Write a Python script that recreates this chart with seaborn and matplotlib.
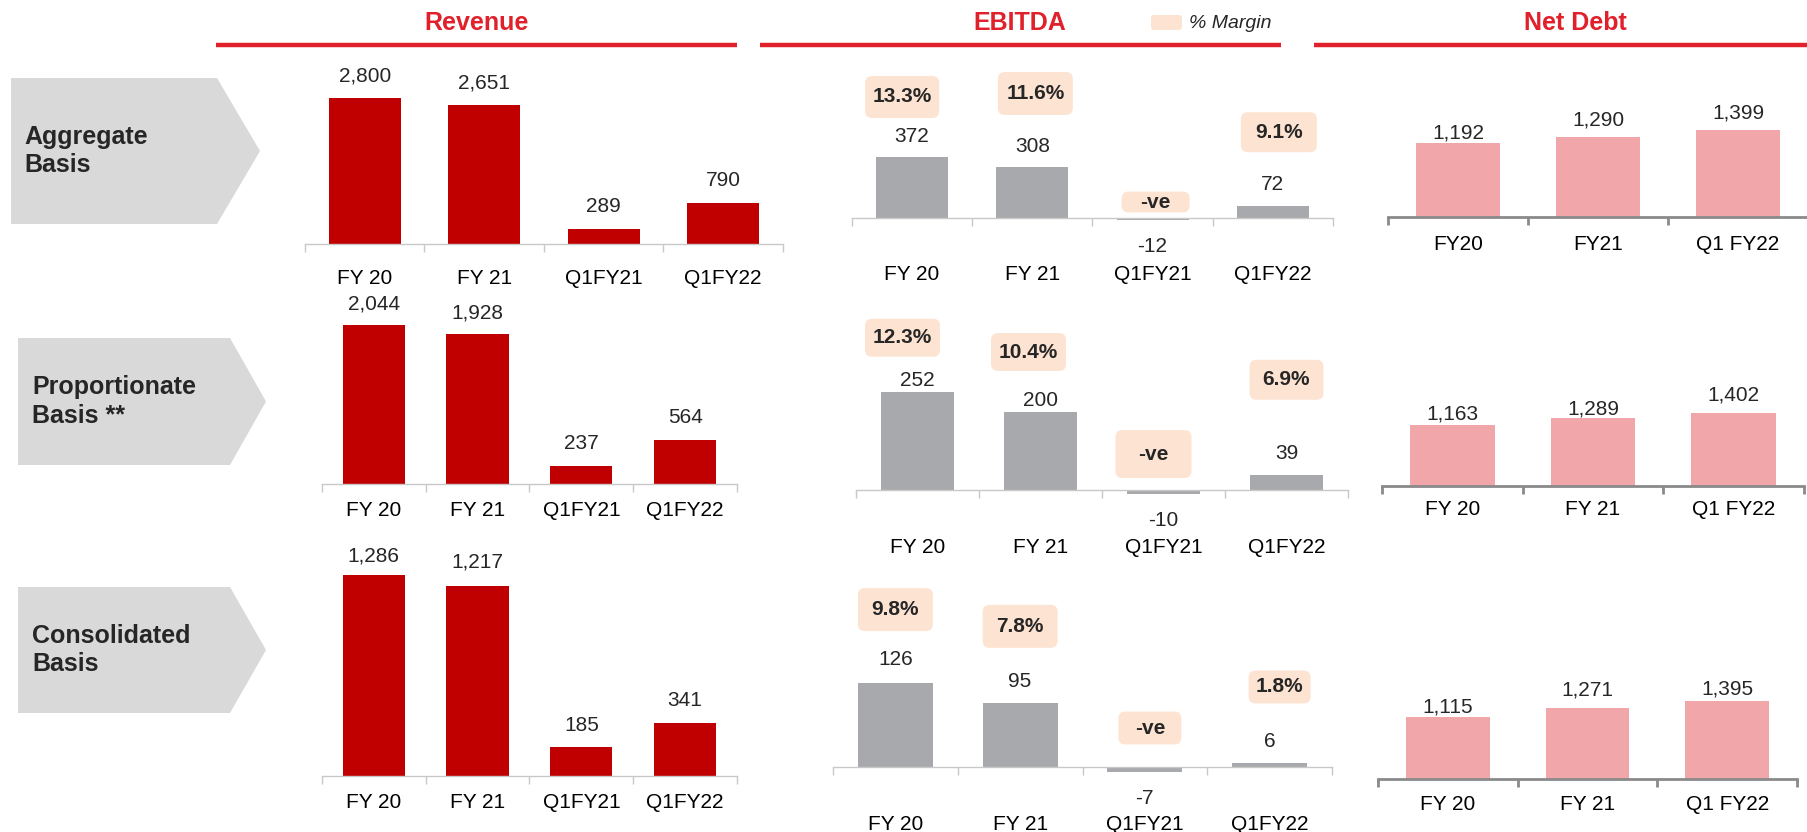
import numpy as np
import matplotlib
matplotlib.use("Agg")
import matplotlib.pyplot as plt
import seaborn as sns
from matplotlib.patches import Polygon, FancyBboxPatch

sns.set_theme(style="white")
plt.rcParams['font.family'] = ['Liberation Sans', 'DejaVu Sans']

# ---- data ----
basis_labels = ['Aggregate\nBasis', 'Proportionate\nBasis **', 'Consolidated\nBasis']

rev_cats = ['FY 20', 'FY 21', 'Q1FY21', 'Q1FY22']
rev_aggregate = [2800, 2651, 289, 790]
rev_proportionate = [2044, 1928, 237, 564]
rev_consolidated = [1286, 1217, 185, 341]

ebitda_cats = ['FY 20', 'FY 21', 'Q1FY21', 'Q1FY22']
ebitda_aggregate = [372, 308, -12, 72]
ebitda_proportionate = [252, 200, -10, 39]
ebitda_consolidated = [126, 95, -7, 6]
margin_aggregate = ['13.3%', '11.6%', '-ve', '9.1%']
margin_proportionate = ['12.3%', '10.4%', '-ve', '6.9%']
margin_consolidated = ['9.8%', '7.8%', '-ve', '1.8%']

debt_cats_top = ['FY20', 'FY21', 'Q1 FY22']
debt_cats = ['FY 20', 'FY 21', 'Q1 FY22']
debt_aggregate = [1192, 1290, 1399]
debt_proportionate = [1163, 1289, 1402]
debt_consolidated = [1115, 1271, 1395]

# ---- colours ----
RED_BAR = '#c00000'
GREY_BAR = '#a7a9ac'
PINK_BAR = '#f1a7aa'
PEACH = '#fde4d2'
HEAD_RED = '#e0202b'
CHEVRON = '#d9d9d9'

W, H = 1808, 832
fig = plt.figure(figsize=(W / 100, H / 100), dpi=100)
PT = 0.72  # points per pixel at 100 dpi

# background layer in pixel units for the slide decoration
bg = fig.add_axes([0, 0, 1, 1], zorder=0)
bg.set_xlim(0, W)
bg.set_ylim(H, 0)
bg.axis('off')

# section headers with red rules
for name, cx, x0, x1 in [('Revenue', 477, 216, 737),
                         ('EBITDA', 1020, 760, 1281),
                         ('Net Debt', 1575, 1314, 1808)]:
    bg.text(cx, 23, name, ha='center', va='center', fontsize=18,
            fontweight='bold', color=HEAD_RED)
    bg.plot([x0, x1], [45, 45], color=HEAD_RED, lw=3.2, solid_capstyle='butt')

# % Margin legend
bg.add_patch(FancyBboxPatch((1151, 15), 31, 15, boxstyle='round,pad=0,rounding_size=3',
                            fc=PEACH, ec='none'))
bg.text(1189, 23, '% Margin', ha='left', va='center', fontsize=14, style='italic')

# chevrons with basis names
chevrons = [(11, 217, 260, 78, 224, 24), (18, 230, 266, 338, 465, 32), (18, 230, 266, 587, 713, 32)]
for (xa, xb, tip, ya, yb, tx), label in zip(chevrons, basis_labels):
    bg.add_patch(Polygon([(xa, ya), (xb, ya), (tip, (ya + yb) / 2), (xb, yb), (xa, yb)],
                         closed=True, fc=CHEVRON, ec='none'))
    bg.text(tx, (ya + yb) / 2, label, ha='left', va='center', fontsize=18,
            fontweight='bold', linespacing=1.25)


def panel(cats, vals, color, x0, x1, base, scale, lifts, cat_y,
          neg_drop=29, axis_col='#c8c8c8', axis_lw=1.0, margins=None, boxes=None):
    up, down = 280, 60
    ax = fig.add_axes([x0 / W, 1 - (base + down) / H, (x1 - x0) / W, (up + down) / H], zorder=2)
    ax.patch.set_alpha(0)
    sns.barplot(x=cats, y=vals, ax=ax, color=color, width=0.6, saturation=1,
                edgecolor='none', linewidth=0)
    n = len(cats)
    cat_px = (x1 - x0) / n
    ax.set_xlim(-0.5, n - 0.5)
    ax.set_ylim(-down / scale, up / scale)
    ax.set_yticks([])
    ax.set_xlabel('')
    ax.set_ylabel('')
    for s in ['left', 'right', 'top']:
        ax.spines[s].set_visible(False)
    ax.spines['bottom'].set_position(('data', 0))
    ax.spines['bottom'].set_color(axis_col)
    ax.spines['bottom'].set_linewidth(axis_lw)
    ax.set_xticks(range(n))
    ax.set_xticklabels(cats)
    ax.set_xticks(np.arange(n + 1) - 0.5, minor=True)
    ax.tick_params(axis='x', which='major', length=0, pad=(cat_y - base - 8) * PT,
                   labelsize=15, colors='black')
    ax.tick_params(axis='x', which='minor', length=6, width=axis_lw, color=axis_col,
                   direction='out', bottom=True)
    for i, v in enumerate(vals):
        if v >= 0:
            ax.annotate(f'{v:,}', xy=(i, v), xytext=(0, lifts[i] * PT),
                        textcoords='offset points', ha='center', va='center', fontsize=15)
        else:
            ax.annotate(f'{v}', xy=(i, 0), xytext=(0, -neg_drop * PT),
                        textcoords='offset points', ha='center', va='center', fontsize=15)
    if margins is not None:
        for i, (txt, (dx, dy, bw, bh)) in enumerate(zip(margins, boxes)):
            cx = i + dx / cat_px
            cy = max(vals[i], 0) + dy / scale
            wd, hd = bw / cat_px, bh / scale
            ax.add_patch(FancyBboxPatch((cx - wd / 2, cy - hd / 2), wd, hd,
                                        boxstyle=f'round,pad=0,rounding_size={7 / cat_px}',
                                        mutation_aspect=cat_px / scale,
                                        fc=PEACH, ec='none', clip_on=False, zorder=3))
            ax.text(cx, cy, txt, ha='center', va='center', fontsize=15,
                    fontweight='bold', zorder=4)
    return ax


# Revenue
panel(rev_cats, rev_aggregate, RED_BAR, 305, 783, 244, 0.0523, [22, 22, 22, 22], 277)
panel(rev_cats, rev_proportionate, RED_BAR, 322, 737, 484, 0.0777, [21, 21, 22, 23], 509)
panel(rev_cats, rev_consolidated, RED_BAR, 322, 737, 776, 0.1563, [19, 24, 22, 22], 801)

# EBITDA with margin badges
panel(ebitda_cats, ebitda_aggregate, GREY_BAR, 852, 1333, 218, 0.164, [20, 21, 0, 22], 273,
      neg_drop=28, margins=margin_aggregate,
      boxes=[(-10, 60, 74, 42), (3, 74, 75, 43), (3, 16, 68, 21), (6, 74, 76, 40)])
panel(ebitda_cats, ebitda_proportionate, GREY_BAR, 856, 1348, 490, 0.39, [11, 11, 0, 21], 546,
      neg_drop=30, margins=margin_proportionate,
      boxes=[(-15, 54, 75, 38), (-12, 60, 75, 38), (-10, 36, 76, 48), (0, 95, 74, 40)])
panel(ebitda_cats, ebitda_consolidated, GREY_BAR, 833, 1332, 767, 0.67, [23, 22, 0, 21], 823,
      neg_drop=31, margins=margin_consolidated,
      boxes=[(0, 73, 75, 43), (0, 77, 75, 43), (5, 39, 63, 33), (10, 76, 62, 33)])

# Net Debt
panel(debt_cats_top, debt_aggregate, PINK_BAR, 1388, 1808, 217, 0.0621, [10, 17, 17], 243,
      axis_col='#8a8a8a', axis_lw=2.0)
panel(debt_cats, debt_proportionate, PINK_BAR, 1382, 1804, 486, 0.0524, [11, 9, 18], 508,
      axis_col='#8a8a8a', axis_lw=2.0)
panel(debt_cats, debt_consolidated, PINK_BAR, 1378, 1797, 779, 0.0557, [10, 18, 12], 803,
      axis_col='#8a8a8a', axis_lw=2.0)

fig.savefig('out.png', dpi=100, facecolor='white')
